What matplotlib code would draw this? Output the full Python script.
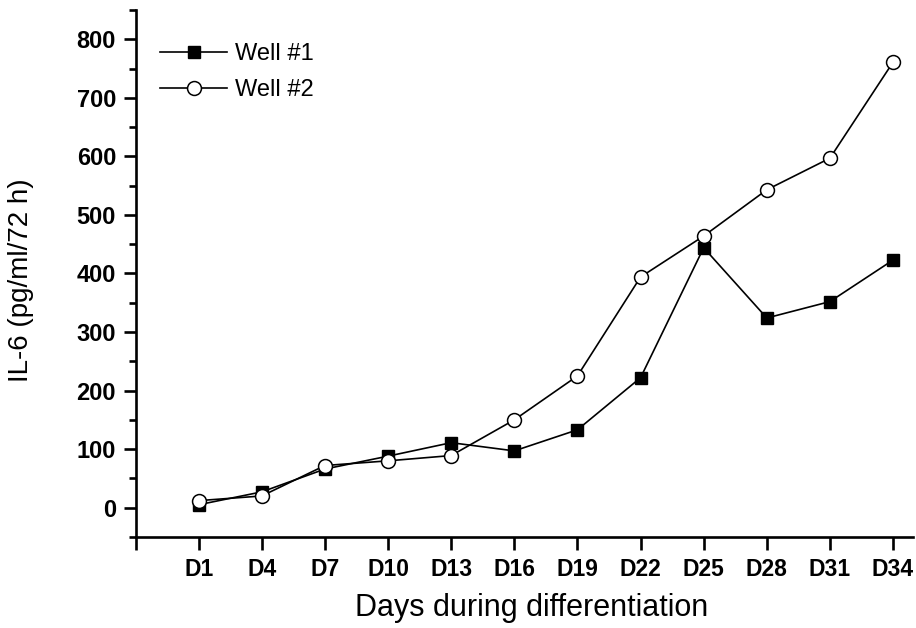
import matplotlib
matplotlib.use("Agg")
import matplotlib.pyplot as plt
from matplotlib.ticker import MultipleLocator

days = ["D1", "D4", "D7", "D10", "D13", "D16", "D19", "D22", "D25", "D28", "D31", "D34"]
well1 = [5, 27, 66, 88, 111, 97, 133, 222, 444, 324, 352, 423]
well2 = [12, 20, 72, 80, 89, 150, 225, 394, 464, 543, 597, 761]

plt.rcParams['font.family'] = ['Liberation Sans', 'DejaVu Sans']

fig = plt.figure(figsize=(9.16, 6.28), dpi=100)
ax = fig.add_axes([0.148, 0.145, 0.849, 0.839])

x = list(range(1, len(days) + 1))
ax.plot(x, well1, color='black', lw=1.2, marker='s', ms=9, mfc='black', mec='black', label='Well #1')
ax.plot(x, well2, color='black', lw=1.2, marker='o', ms=10, mfc='white', mec='black', mew=1.1, label='Well #2')

ax.set_xlim(0, 12.32)
ax.set_ylim(-50, 850)
ax.set_xticks([0] + x)
ax.set_xticklabels([''] + days, fontsize=16.5, fontweight='bold')
ax.yaxis.set_minor_locator(MultipleLocator(50))
ax.set_yticks(range(0, 801, 100))
ax.set_yticklabels([str(v) for v in range(0, 801, 100)], fontsize=17, fontweight='bold')

for s in ['top', 'right']:
    ax.spines[s].set_visible(False)
for s in ['left', 'bottom']:
    ax.spines[s].set_linewidth(1.9)
ax.tick_params(axis='both', which='major', direction='out', length=9, width=1.9)
ax.tick_params(axis='y', which='major', pad=5)
ax.tick_params(axis='x', which='major', pad=6)
ax.tick_params(axis='y', which='minor', direction='out', length=5, width=1.9)

ax.set_xlabel('Days during differentiation', fontsize=22, labelpad=9)
ax.xaxis.label.set_x(0.509)
ax.set_ylabel('IL-6 (pg/ml/72 h)', fontsize=20, labelpad=31)
ax.yaxis.label.set_y(0.488)

leg = ax.legend(loc='upper left', bbox_to_anchor=(0.004, 0.978), frameon=False, fontsize=17,
                handlelength=2.85, handletextpad=0.35, labelspacing=0.6)

fig.savefig('out.png', dpi=100)
